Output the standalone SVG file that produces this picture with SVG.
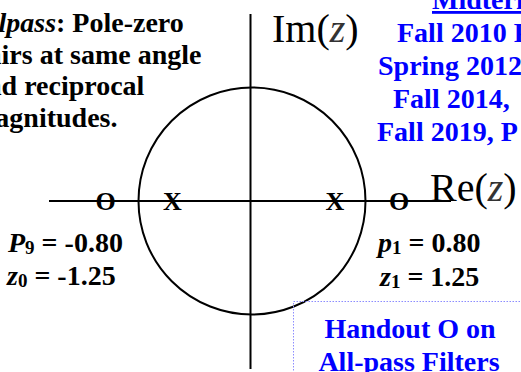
<svg xmlns="http://www.w3.org/2000/svg" width="521" height="372" viewBox="0 0 521 372">
  <style>
    .ser { font-family: "Liberation Serif", "Times New Roman", serif; }
    .b { font-weight: bold; }
    .blk { fill: #000; }
    .blue { fill: #0000ff; }
    .ax { stroke: #000; stroke-width: 2; fill: none; }
    .mk { font-family: "Liberation Serif", "Times New Roman", serif; font-weight: bold; font-size: 26px; text-anchor: middle; fill: #000; }
    .lbl { font-family: "Liberation Serif", "Times New Roman", serif; font-weight: bold; font-size: 28px; fill: #000; }
    .sub { font-size: 19px; }
  </style>

  <g id="description" class="ser b blk" font-size="28">
    <text x="-28" y="32"><tspan font-style="italic">Allpass</tspan>: Pole-zero</text>
    <text x="-28" y="63.5">pairs at same angle</text>
    <text x="-28" y="95">and reciprocal</text>
    <text x="-28" y="126.5">magnitudes.</text>
  </g>

  <g id="references" class="ser b blue" font-size="28">
    <text x="432" y="9" text-decoration="underline">Midterm</text>
    <text x="397" y="42">Fall 2010 P</text>
    <text x="378" y="75">Spring 2012</text>
    <text x="393" y="108">Fall 2014,</text>
    <text x="377" y="141">Fall 2019, P</text>
  </g>

  <g id="axes">
    <line class="ax" x1="250.5" y1="14" x2="250.5" y2="369"/>
    <line class="ax" x1="49" y1="201" x2="451" y2="201"/>
    <text class="ser" x="272" y="42" font-size="40" fill="#000">Im(<tspan font-style="italic" fill="#333">z</tspan>)</text>
    <text class="ser" x="430" y="201" font-size="40" fill="#000">Re(<tspan font-style="italic" fill="#333">z</tspan>)</text>
  </g>

  <g id="unit-circle">
    <circle class="ax" cx="252" cy="201" r="113.5"/>
  </g>

  <g id="zero-left"><text class="mk" x="105.5" y="210">O</text></g>
  <g id="pole-left"><text class="mk" x="172.5" y="210">X</text></g>
  <g id="pole-right"><text class="mk" x="335" y="210">X</text></g>
  <g id="zero-right"><text class="mk" x="399" y="210">O</text></g>

  <g id="label-left">
    <text class="lbl" x="8" y="252"><tspan font-style="italic">P</tspan><tspan class="sub" dy="2">9</tspan><tspan dy="-2"> = -0.80</tspan></text>
    <text class="lbl" x="7" y="285"><tspan font-style="italic">z</tspan><tspan class="sub" dy="2">0</tspan><tspan dy="-2"> = -1.25</tspan></text>
  </g>

  <g id="label-right">
    <text class="lbl" x="378" y="252"><tspan font-style="italic">p</tspan><tspan class="sub" dy="2">1</tspan><tspan dy="-2"> = 0.80</tspan></text>
    <text class="lbl" x="380" y="286"><tspan font-style="italic">z</tspan><tspan class="sub" dy="2">1</tspan><tspan dy="-2"> = 1.25</tspan></text>
  </g>

  <g id="handout">
    <rect x="293.5" y="301.5" width="240" height="90" fill="none" stroke="#8c8cff" stroke-width="1" stroke-dasharray="1.5 1.5"/>
    <text class="ser b blue" font-size="28" x="410" y="338" text-anchor="middle">Handout O on</text>
    <text class="ser b blue" font-size="28" x="409" y="371" text-anchor="middle">All-pass Filters</text>
  </g>
</svg>
